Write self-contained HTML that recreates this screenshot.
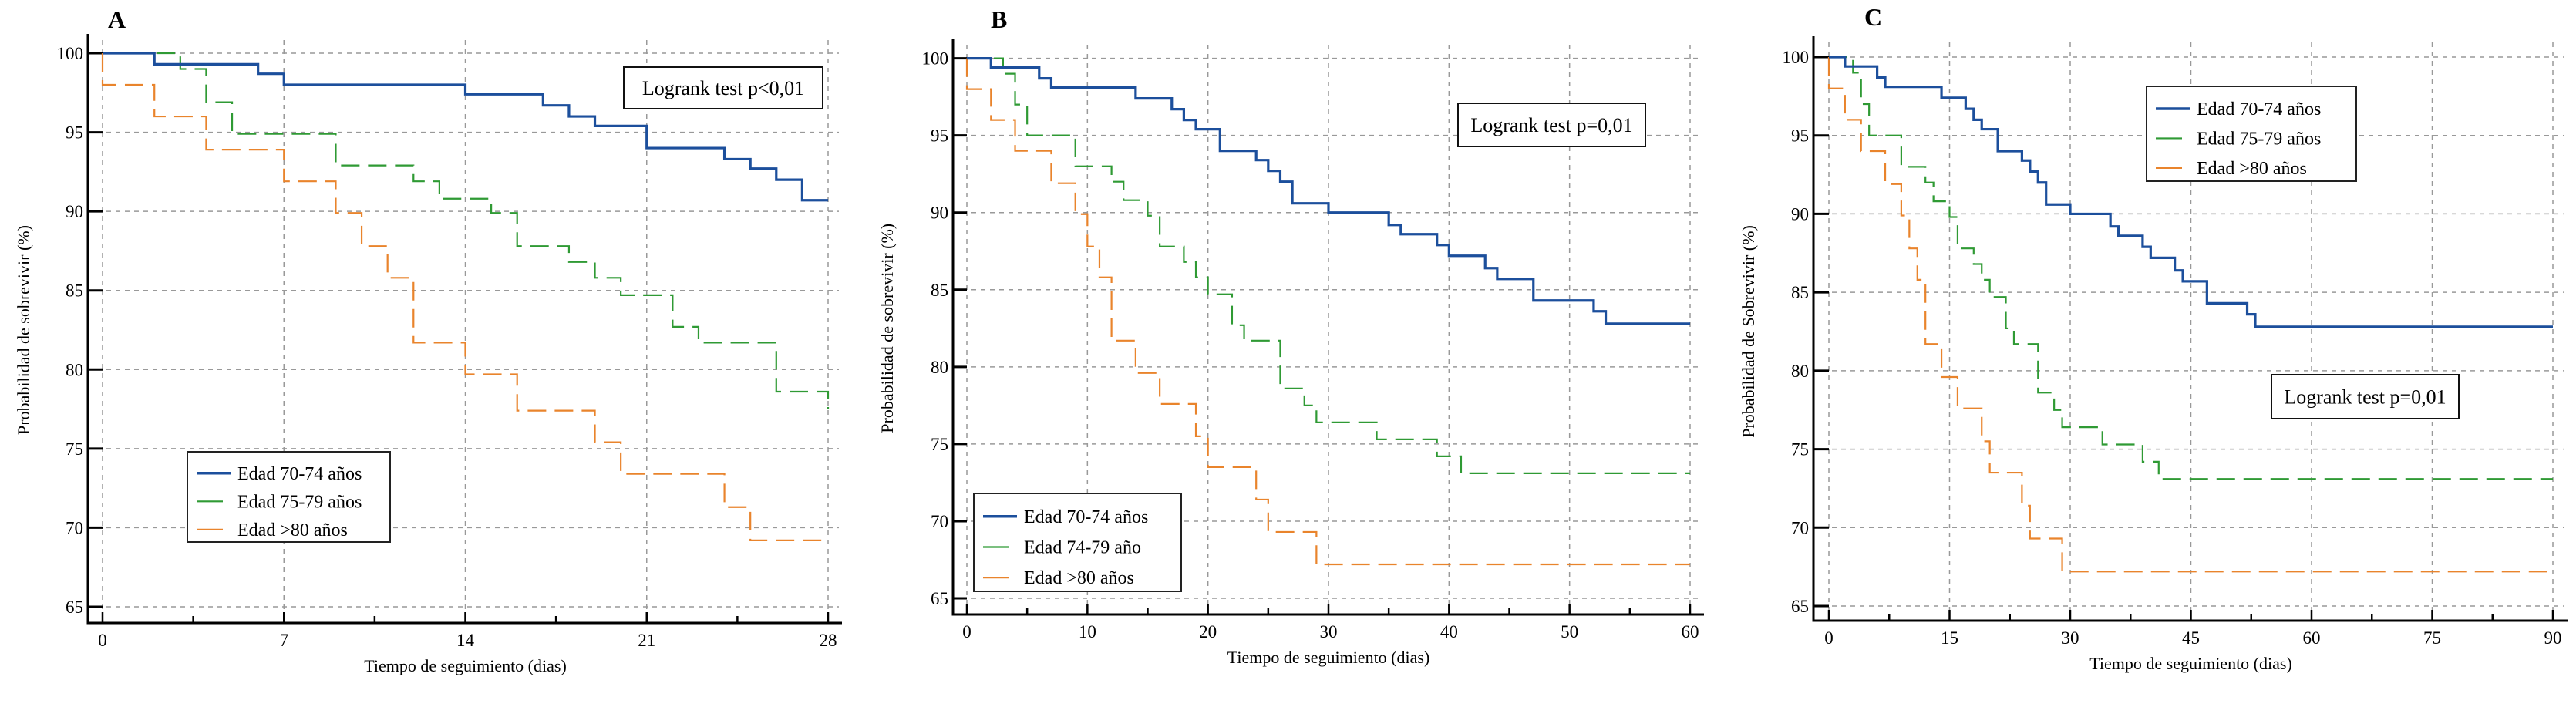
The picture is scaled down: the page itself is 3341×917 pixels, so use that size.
<!DOCTYPE html>
<html><head><meta charset="utf-8"><style>
html,body{margin:0;padding:0;background:#fff;}
svg{display:block;font-family:"Liberation Serif",serif;}
</style></head><body>
<svg id="fig" width="3341" height="917" viewBox="0 0 3341 917"></svg>
<script>
// Panel A data (days, survival %)
const aBlueT=[2,6,7,14,17,18,19,21,24,25,26,27];
const aBlueV=[99.3,98.7,98.0,97.4,96.7,96.0,95.4,94.0,93.3,92.7,92.0,90.7];
const aGreenT=[3,4,5,9,12,13,15,16,18,19,20,22,23,26,28];
const aGreenV=[99.0,96.9,94.9,92.9,91.9,90.8,89.9,87.8,86.8,85.8,84.7,82.7,81.7,78.6,77.5];
const aOrangeT=[0,2,4,7,9,10,11,12,14,16,19,20,24,25];
const aOrangeV=[98.0,96.0,93.9,91.9,89.9,87.8,85.8,81.7,79.7,77.4,75.4,73.4,71.3,69.2];
// Panels B and C data
const bBlueT=[2,6,7,14,17,18,19,21,24,25,26,27,30,35,36,39,40,43,44,47,52,53];
const bBlueV=[99.4,98.7,98.1,97.4,96.7,96.0,95.4,94.0,93.4,92.7,92.0,90.6,90.0,89.2,88.6,87.9,87.2,86.4,85.7,84.3,83.6,82.8];
const bGreenT=[3,4,5,9,12,13,15,16,18,19,20,22,23,26,28,29,34,39,41];
const bGreenV=[99.0,97.0,95.0,93.0,92.0,90.8,89.8,87.8,86.8,85.8,84.7,82.7,81.7,78.6,77.5,76.4,75.3,74.2,73.1];
const bOrangeT=[0,2,4,7,9,10,11,12,14,16,19,20,24,25,29];
const bOrangeV=[98.0,96.0,94.0,91.9,89.9,87.8,85.8,81.7,79.6,77.6,75.5,73.5,71.4,69.3,67.2];
const cBlueT=bBlueT, cBlueV=bBlueV, cGreenT=bGreenT, cGreenV=bGreenV, cOrangeT=bOrangeT, cOrangeV=bOrangeV;
const yTicks=[65,70,75,80,85,90,95,100];
const aXTicks=[0,7,14,21,28];
const bXTicks=[0,10,20,30,40,50,60];
const cXTicks=[0,15,30,45,60,75,90];

const NS="http://www.w3.org/2000/svg";
const svg=document.getElementById('fig');
function mk(tag,attrs,parent,text){const e=document.createElementNS(NS,tag);for(const k in attrs)e.setAttribute(k,attrs[k]);if(text!==undefined)e.textContent=text;(parent||svg).appendChild(e);return e;}

const BLUE="#1c4f9c",GREEN="#2f9a34",ORANGE="#e9842c";

function panel(p){
  const g=mk('g',{});
  
  
  const X=d=>p.x0+(d-0)/(p.xmax)*(p.x1-p.x0);
  const Y=v=>p.y100+(100-v)/35*(p.y65-p.y100);
  // grid
  yTicks.forEach(v=>{const l=mk('line',{x1:p.ax,x2:p.gridEnd,y1:Y(v),y2:Y(v),stroke:'#999','stroke-width':1.5,'stroke-dasharray':'6,6'},g);
    });
  p.xt.forEach(d=>{const l=mk('line',{x1:X(d),x2:X(d),y1:p.top,y2:p.axY,stroke:'#999','stroke-width':1.5,'stroke-dasharray':'6,6'},g);
    });
  // axes
  const ya=mk('line',{x1:p.ax,x2:p.ax,y1:p.top-8,y2:p.axY+1.5,stroke:'#000','stroke-width':3},g);
  
  const xa=mk('line',{x1:p.ax-1.5,x2:p.axEnd,y1:p.axY,y2:p.axY,stroke:'#000','stroke-width':3},g);
  
  yTicks.forEach(v=>{mk('line',{x1:p.ax,x2:p.x0,y1:Y(v),y2:Y(v),stroke:'#000','stroke-width':3},g);
    const t=mk('text',{x:p.ax-6,y:Y(v)+8,'text-anchor':'end','font-size':23},g,String(v));
    });
  const step=(p.xt[1]-p.xt[0])/2;
  for(let d=0;d<=p.xmax+1e-6;d+=step){const major=p.xt.some(m=>Math.abs(m-d)<1e-6);
    mk('line',{x1:X(d),x2:X(d),y1:p.axY,y2:p.axY-(major?14:9),stroke:'#000','stroke-width':2.5},g);}
  p.xt.forEach(d=>{const t=mk('text',{x:X(d),y:p.axY+30,'text-anchor':'middle','font-size':23},g,String(d));
    });
  // titles
  const xtl=mk('text',{x:(p.x0+p.x1)/2,y:p.axY+63,'text-anchor':'middle','font-size':22},g,'Tiempo de seguimiento (dias)');
  
  const yc=(p.y100+p.y65)/2;
  const ytl=mk('text',{x:p.ytx,y:yc,'text-anchor':'middle','font-size':22,transform:`rotate(-90 ${p.ytx} ${yc})`},g,p.ytitle);
  
  const pl=mk('text',{x:p.lx,y:p.ly,'font-size':32,'font-weight':'bold'},g,p.id);
  
  // series
  function series(T,V,color,w,dash,name){
    let d=`M${X(0)},${Y(100)}`;
    for(let i=0;i<T.length;i++){d+=` H${X(T[i])} V${Y(V[i])}`;}
    d+=` H${X(p.xmax)}`;
    const path=mk('path',{d:d,fill:'none',stroke:color,'stroke-width':w,'stroke-dasharray':dash||'none'},g);
    
  }
  series(p.gT,p.gV,GREEN,2.2,'24,11','series-75-79');
  series(p.oT,p.oV,ORANGE,2.2,'24,11','series-80-plus');
  series(p.bT,p.bV,BLUE,3.2,null,'series-70-74');
  // legend
  const lg=mk('g',{},g);
  mk('rect',{x:p.leg[0],y:p.leg[1],width:p.leg[2],height:p.leg[3],fill:'#fff',stroke:'#222','stroke-width':2},lg);
  const rowH=p.leg[3]/3.2;
  [[BLUE,3.5,44,p.labels[0]],[GREEN,2.2,34,p.labels[1]],[ORANGE,2.2,34,p.labels[2]]].forEach((r,i)=>{
    const cy=p.leg[1]+rowH*(0.65+i)+4;
    mk('line',{x1:p.leg[0]+12,x2:p.leg[0]+12+r[2],y1:cy,y2:cy,stroke:r[0],'stroke-width':r[1]},lg);
    const t=mk('text',{x:p.leg[0]+65,y:cy+8,'font-size':24},lg,r[3]);
    
  });
  const lr=mk('g',{},g);
  mk('rect',{x:p.lr[0],y:p.lr[1],width:p.lr[2],height:p.lr[3],fill:'#fff',stroke:'#111','stroke-width':2},lr);
  mk('text',{x:p.lr[0]+p.lr[2]/2,y:p.lr[1]+p.lr[3]/2+9,'text-anchor':'middle','font-size':26},lr,p.lrText);
}

panel({id:'A',x0:133,x1:1074,xmax:28,y100:69,y65:787,ax:114,axY:808,axEnd:1092,top:52,gridEnd:1088,xt:aXTicks,
  bT:aBlueT,bV:aBlueV,gT:aGreenT,gV:aGreenV,oT:aOrangeT,oV:aOrangeV,ytx:38,ytitle:'Probabilidad de sobrevivir (%)',
  lx:140,ly:36,leg:[243,586,263,117],labels:['Edad 70-74 años','Edad 75-79 años','Edad >80 años'],
  lr:[809,87,258,54],lrText:'Logrank test p<0,01'});
panel({id:'B',x0:1254,x1:2192,xmax:60,y100:75.6,y65:776,ax:1236,axY:797,axEnd:2210,top:58,gridEnd:2206,xt:bXTicks,
  bT:bBlueT,bV:bBlueV,gT:bGreenT,gV:bGreenV,oT:bOrangeT,oV:bOrangeV,ytx:1158,ytitle:'Probabilidad de sobrevivir (%)',
  lx:1285,ly:36,leg:[1263,640,269,127],labels:['Edad 70-74 años','Edad 74-79 año','Edad >80 años'],
  lr:[1891,134,243,56],lrText:'Logrank test p=0,01'});
panel({id:'C',x0:2372,x1:3311,xmax:90,y100:74,y65:786,ax:2352,axY:805,axEnd:3330,top:55,gridEnd:3325,xt:cXTicks,
  bT:cBlueT,bV:cBlueV,gT:cGreenT,gV:cGreenV,oT:cOrangeT,oV:cOrangeV,ytx:2275,ytitle:'Probabilidad de Sobrevivir (%)',
  lx:2418,ly:33,leg:[2784,112,272,123],labels:['Edad 70-74 años','Edad 75-79 años','Edad >80 años'],
  lr:[2946,486,243,57],lrText:'Logrank test p=0,01'});
</script>
</body></html>
